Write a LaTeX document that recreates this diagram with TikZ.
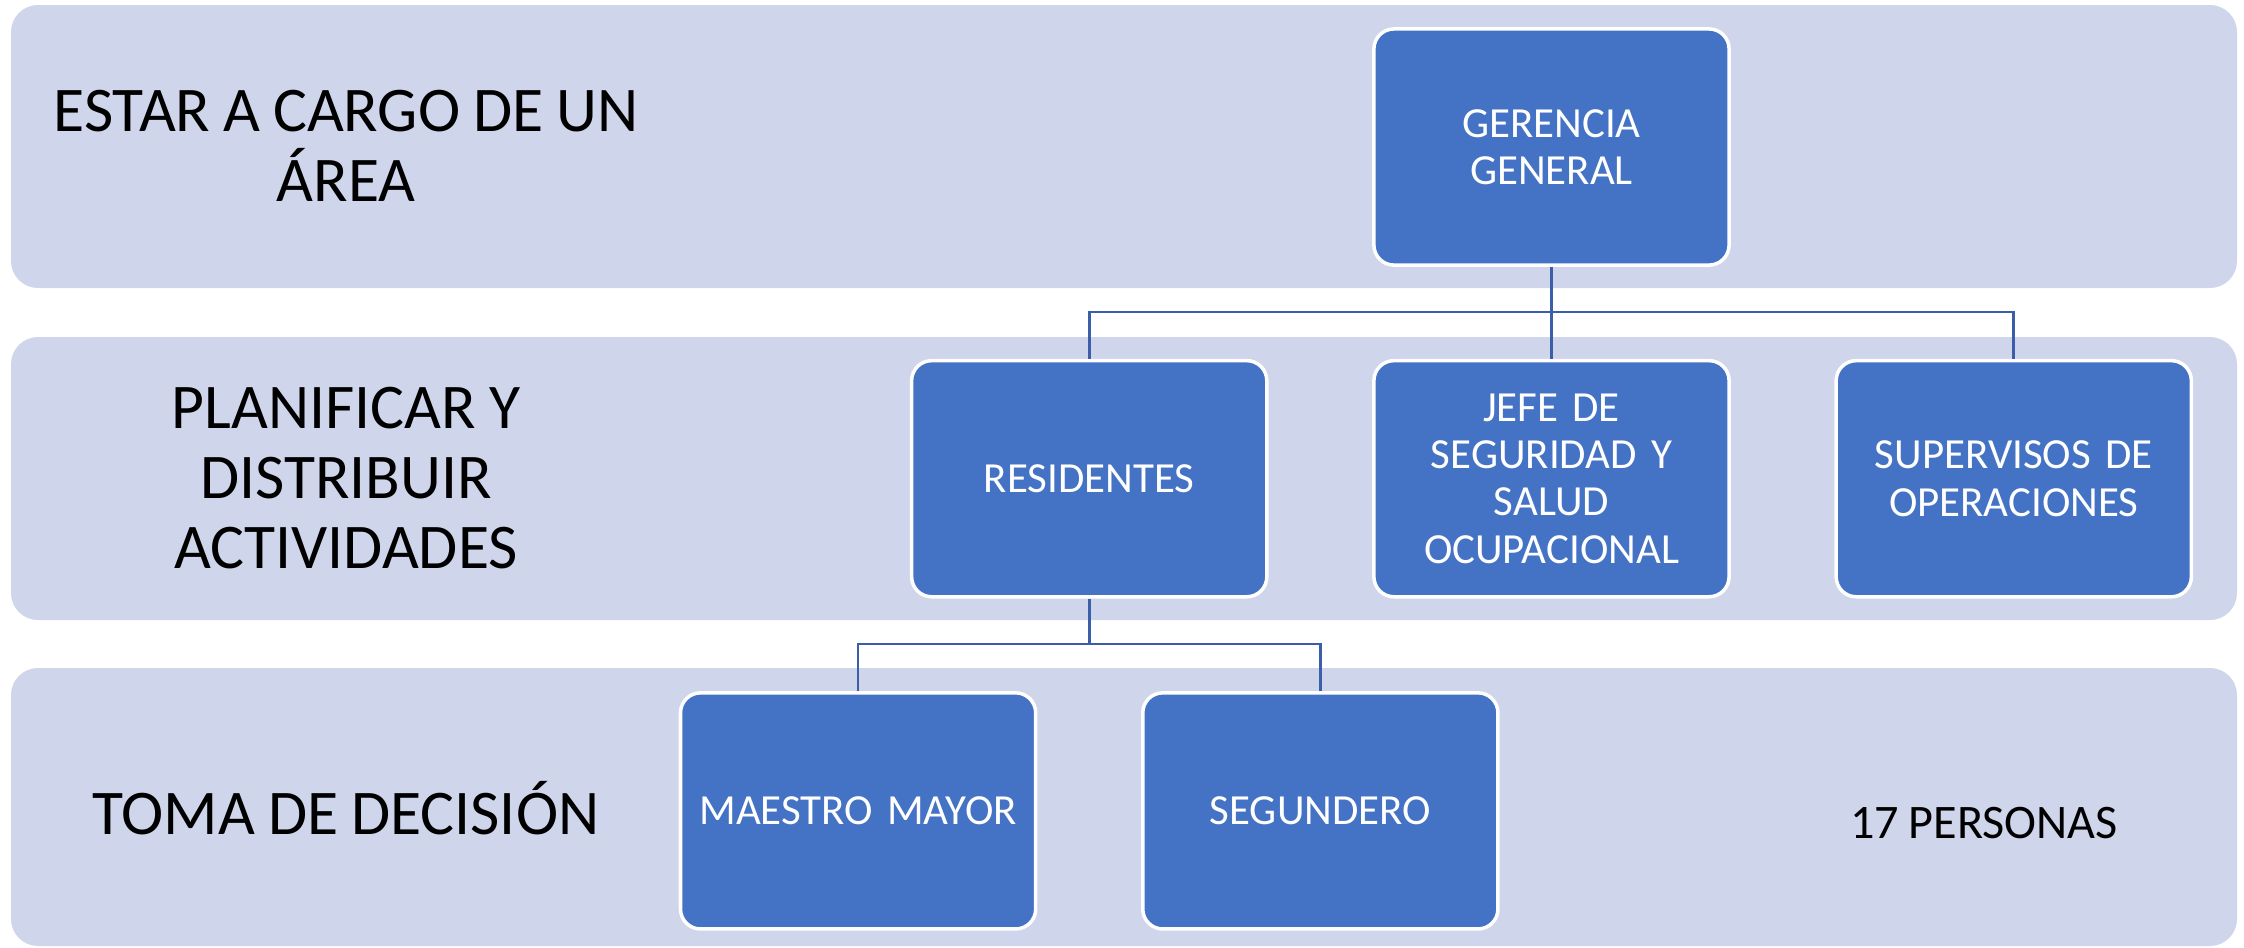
\documentclass[tikz,border=0pt]{standalone}
\usepackage{fontspec}
\setmainfont[WordSpace=0.9]{Carlito}
\usepackage{tikz}
\usetikzlibrary{positioning}

\definecolor{bandfill}{RGB}{207,213,234}
\definecolor{boxfill}{RGB}{68,114,196}
\definecolor{linkcol}{RGB}{58,94,168}

\begin{document}
\begin{tikzpicture}[x=0.01cm,y=-0.01cm,node distance=4.62cm,on grid,
    band/.style={fill=bandfill,rounded corners=0.27cm},
    post/.style={rectangle,rounded corners=0.2cm,fill=boxfill,draw=white,line width=1pt,
      minimum width=3.55cm,minimum height=2.36cm,text width=3.3cm,align=center,
      text=white,font=\fontsize{12.2}{13.4}\selectfont},
    level/.style={align=center,font=\fontsize{18.1}{19.8}\selectfont},
    link/.style={draw=linkcol,line width=0.75pt}]
   \useasboundingbox (0,0) rectangle (2244,947);
   % bands
   \fill[band] (11,5) rectangle (2237,288);
   \fill[band] (11,337) rectangle (2237,620);
   \fill[band] (11,668) rectangle (2237,946);
   \node[level] (lvl1) at (346,146) {ESTAR A CARGO DE UN\\ÁREA};
   \node[level] (lvl2) at (346,478) {PLANIFICAR Y\\DISTRIBUIR\\ACTIVIDADES};
   \node[level] (lvl3) at (346,808) {TOMA DE DECISIÓN};
   \node[font=\fontsize{13.7}{15}\selectfont] (total) at (1984,823) {17 PERSONAS};
   % chart
   \node[post] (gg) at (1551.5,147) {GERENCIA\\GENERAL};
   \node[post] (jefe) [below=3.315cm of gg] {JEFE DE\\SEGURIDAD Y\\SALUD\\OCUPACIONAL};
   \node[post] (res) [left=of jefe] {RESIDENTES};
   \node[post] (sup) [right=of jefe] {SUPERVISOS DE\\OPERACIONES};
   \node[post] (mae) [below left=3.32cm and 2.31cm of res] {MAESTRO MAYOR};
   \node[post] (seg) [right=of mae] {SEGUNDERO};
   \coordinate (bus1) at (0,312);
   \coordinate (bus2) at (0,644);
   \path[link]
    (gg.south) -- (jefe.north)
    (gg.south |- bus1) -| (res.north)
    (gg.south |- bus1) -| (sup.north)
    (res.south) -- (res.south |- bus2) -| (mae.north)
    (res.south |- bus2) -| (seg.north);
\end{tikzpicture}
\end{document}
